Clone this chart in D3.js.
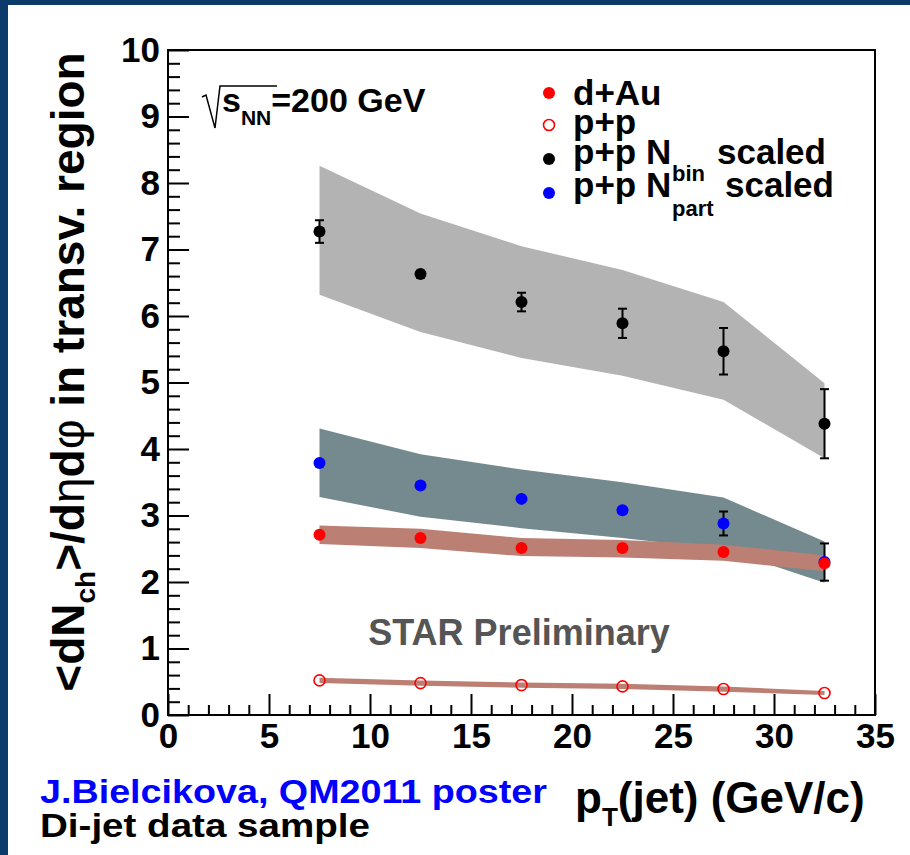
<!DOCTYPE html>
<html>
<head>
<meta charset="utf-8">
<script src="https://cdn.jsdelivr.net/npm/d3@7"></script>
<style>
  body { margin: 0; background: #fff; }
  svg text { font-family: "Liberation Sans", Arial, sans-serif; font-weight: bold; }
</style>
</head>
<body>
<div id="chart"></div>
<script>
// data: pT(jet) bin centres
const ptJet = [7.5, 12.5, 17.5, 22.5, 27.5, 32.5];

// d+Au
const dAu = [2.71, 2.66, 2.51, 2.51, 2.45, 2.28];
const dAuBandHi = [2.85, 2.80, 2.66, 2.63, 2.56, 2.40];
const dAuBandLo = [2.57, 2.51, 2.39, 2.37, 2.32, 2.16];

// p+p
const pp = [0.52, 0.48, 0.45, 0.43, 0.39, 0.33];
const ppBandHi = [0.56, 0.52, 0.49, 0.47, 0.43, 0.36];
const ppBandLo = [0.48, 0.44, 0.41, 0.39, 0.35, 0.30];

// p+p Nbin scaled
const ppNbin = [7.27, 6.63, 6.21, 5.89, 5.47, 4.38];
const ppNbinErr = [0.17, 0.05, 0.14, 0.22, 0.35, 0.52];
const ppNbinBandHi = [8.26, 7.54, 7.05, 6.69, 6.21, 4.99];
const ppNbinBandLo = [6.32, 5.76, 5.37, 5.10, 4.74, 3.86];

// p+p Npart scaled
const ppNpart = [3.79, 3.45, 3.25, 3.08, 2.88, 2.30];
const ppNpartErr = [0.04, 0.04, 0.04, 0.04, 0.18, 0.28];
const ppNpartBandHi = [4.31, 3.92, 3.69, 3.50, 3.27, 2.61];
const ppNpartBandLo = [3.28, 2.98, 2.81, 2.66, 2.49, 1.99];

const xTicks = [0, 5, 10, 15, 20, 25, 30, 35];
const yTicks = [0, 1, 2, 3, 4, 5, 6, 7, 8, 9, 10];

const W = 910, H = 855;
const frame = { left: 168, right: 875, top: 50, bottom: 715 };

const svg = d3
  .select("#chart")
  .append("svg")
  .attr("width", W)
  .attr("height", H);

// dark blue page border
svg.append("rect").attr("width", W).attr("height", H).attr("fill", "#0b3a6b");
svg.append("rect").attr("x", 8).attr("y", 5).attr("width", W - 8).attr("height", H - 5).attr("fill", "#fff");

const x = d3.scaleLinear().domain([0, 35]).range([frame.left, frame.right]);
const y = d3.scaleLinear().domain([0, 10]).range([frame.bottom, frame.top]);

// systematic bands
function band(hi, lo, color) {
  const pts = ptJet.map((p, i) => ({ p, hi: hi[i], lo: lo[i] }));
  svg
    .append("path")
    .datum(pts)
    .attr("fill", color)
    .attr(
      "d",
      d3
        .area()
        .x((d) => x(d.p))
        .y0((d) => y(d.lo))
        .y1((d) => y(d.hi))
    );
}
band(ppNbinBandHi, ppNbinBandLo, "#b3b3b3");
band(ppNpartBandHi, ppNpartBandLo, "#758a8e");
band(dAuBandHi, dAuBandLo, "#bc7f74");
band(ppBandHi, ppBandLo, "#bc7f74");

// error bars
function errBars(vals, errs) {
  const g = svg.append("g").attr("stroke", "#000").attr("stroke-width", 2);
  ptJet.forEach((p, i) => {
    const cx = x(p), y1 = y(vals[i] + errs[i]), y2 = y(vals[i] - errs[i]);
    g.append("line").attr("x1", cx).attr("x2", cx).attr("y1", y1).attr("y2", y2);
    g.append("line").attr("x1", cx - 4.5).attr("x2", cx + 4.5).attr("y1", y1).attr("y2", y1);
    g.append("line").attr("x1", cx - 4.5).attr("x2", cx + 4.5).attr("y1", y2).attr("y2", y2);
  });
}
function markers(vals, fill, stroke) {
  svg
    .append("g")
    .selectAll("circle")
    .data(vals)
    .join("circle")
    .attr("cx", (d, i) => x(ptJet[i]))
    .attr("cy", (d) => y(d))
    .attr("r", fill === "none" ? 5.5 : 6)
    .attr("fill", fill)
    .attr("stroke", stroke)
    .attr("stroke-width", fill === "none" ? 1.6 : 0);
}
errBars(ppNbin, ppNbinErr);
markers(ppNbin, "#000", "none");
errBars(ppNpart, ppNpartErr);
markers(ppNpart, "#0000ff", "none");
markers(dAu, "#ff0000", "none");
markers(pp, "none", "#ff0000");

// axes: major + minor ticks pointing into the frame
const axisFont = 35;
svg
  .append("g")
  .attr("transform", `translate(0,${frame.bottom})`)
  .call(d3.axisBottom(x).tickValues(d3.range(0, 36, 1).filter((v) => v % 5 !== 0)).tickSize(-10).tickFormat(""))
  .call((g) => g.select(".domain").remove())
  .call((g) => g.selectAll("line").attr("stroke-width", 2));
svg
  .append("g")
  .attr("transform", `translate(0,${frame.bottom})`)
  .call(d3.axisBottom(x).tickValues(xTicks).tickSize(-21).tickPadding(8))
  .call((g) => g.select(".domain").remove())
  .call((g) => g.selectAll("line").attr("stroke-width", 2))
  .call((g) => g.selectAll("text").attr("font-size", axisFont).attr("font-family", "Liberation Sans").attr("font-weight", "bold").attr("fill", "#000"));

svg
  .append("g")
  .attr("transform", `translate(${frame.left},0)`)
  .call(d3.axisLeft(y).tickValues(d3.range(0, 10.01, 0.2).filter((v) => Math.abs(v - Math.round(v)) > 0.01)).tickSize(-12).tickFormat(""))
  .call((g) => g.select(".domain").remove())
  .call((g) => g.selectAll("line").attr("stroke-width", 2));
svg
  .append("g")
  .attr("transform", `translate(${frame.left},0)`)
  .call(d3.axisLeft(y).tickValues(yTicks).tickSize(-21).tickPadding(8))
  .call((g) => g.select(".domain").remove())
  .call((g) => g.selectAll("line").attr("stroke-width", 2))
  .call((g) => g.selectAll("text").attr("font-size", axisFont).attr("font-family", "Liberation Sans").attr("font-weight", "bold").attr("fill", "#000"));

// frame
svg
  .append("rect")
  .attr("x", frame.left)
  .attr("y", frame.top)
  .attr("width", frame.right - frame.left)
  .attr("height", frame.bottom - frame.top)
  .attr("fill", "none")
  .attr("stroke", "#000")
  .attr("stroke-width", 2);

// y title
const yt = svg
  .append("text")
  .attr("transform", "translate(84,372) rotate(-90)")
  .attr("text-anchor", "middle")
  .attr("font-size", 46);
yt.append("tspan").text("<dN");
yt.append("tspan").attr("font-size", 28).attr("dy", 11).text("ch");
yt.append("tspan").attr("dy", -11).text(">/d");
yt.append("tspan").attr("font-weight", "normal").text("η");
yt.append("tspan").text("d");
yt.append("tspan").attr("font-weight", "normal").text("φ");
yt.append("tspan").text(" in transv. region");

// x title
const xt = svg.append("text").attr("x", 575).attr("y", 813).attr("font-size", 44);
xt.append("tspan").text("p");
xt.append("tspan").attr("font-size", 26).attr("dy", 13).text("T");
xt.append("tspan").attr("dy", -13).text("(jet) (GeV/c)");

// sqrt(sNN) label
svg
  .append("path")
  .attr("d", "M202,97 L206,95 L215,128 L220,86 L277,86")
  .attr("fill", "none")
  .attr("stroke", "#000")
  .attr("stroke-width", 1.5);
const sl = svg.append("text").attr("x", 222).attr("y", 112).attr("font-size", 34);
sl.append("tspan").text("s");
sl.append("tspan").attr("font-size", 21).attr("dy", 13).text("NN");
sl.append("tspan").attr("dy", -13).text("=200 GeV");

// legend
const legendRows = [
  { cy: 93, fill: "#ff0000", stroke: "none" },
  { cy: 125, fill: "none", stroke: "#ff0000" },
  { cy: 159, fill: "#000", stroke: "none" },
  { cy: 193, fill: "#0000ff", stroke: "none" },
];
svg
  .append("g")
  .selectAll("circle")
  .data(legendRows)
  .join("circle")
  .attr("cx", 549)
  .attr("cy", (d) => d.cy)
  .attr("r", (d) => (d.fill === "none" ? 5.5 : 6))
  .attr("fill", (d) => d.fill)
  .attr("stroke", (d) => d.stroke)
  .attr("stroke-width", 1.6);
const legFont = 35;
svg.append("text").attr("x", 573).attr("y", 105).attr("font-size", legFont).text("d+Au");
svg.append("text").attr("x", 573).attr("y", 134).attr("font-size", legFont).text("p+p");
svg.append("text").attr("x", 573).attr("y", 164).attr("font-size", legFont).text("p+p N");
svg.append("text").attr("x", 717).attr("y", 164).attr("font-size", legFont).text("scaled");
svg.append("text").attr("x", 573).attr("y", 197).attr("font-size", legFont).text("p+p N");
svg.append("text").attr("x", 672).attr("y", 181).attr("font-size", 22).text("bin");
svg.append("text").attr("x", 672).attr("y", 216).attr("font-size", 22).text("part");
svg.append("text").attr("x", 725).attr("y", 197).attr("font-size", legFont).text("scaled");

// STAR Preliminary
svg
  .append("text")
  .attr("x", 519)
  .attr("y", 645)
  .attr("text-anchor", "middle")
  .attr("font-size", 36)
  .attr("fill", "#555")
  .text("STAR Preliminary");

// credits
svg
  .append("text")
  .attr("x", 40)
  .attr("y", 803)
  .attr("font-family", "DejaVu Sans")
  .attr("font-size", 33)
  .attr("textLength", 507)
  .attr("lengthAdjust", "spacingAndGlyphs")
  .attr("fill", "#0000ff")
  .text("J.Bielcikova, QM2011 poster");
svg
  .append("text")
  .attr("x", 40)
  .attr("y", 837)
  .attr("font-family", "DejaVu Sans")
  .attr("font-size", 33)
  .attr("textLength", 330)
  .attr("lengthAdjust", "spacingAndGlyphs")
  .attr("fill", "#000")
  .text("Di-jet data sample");
</script>
</body>
</html>
